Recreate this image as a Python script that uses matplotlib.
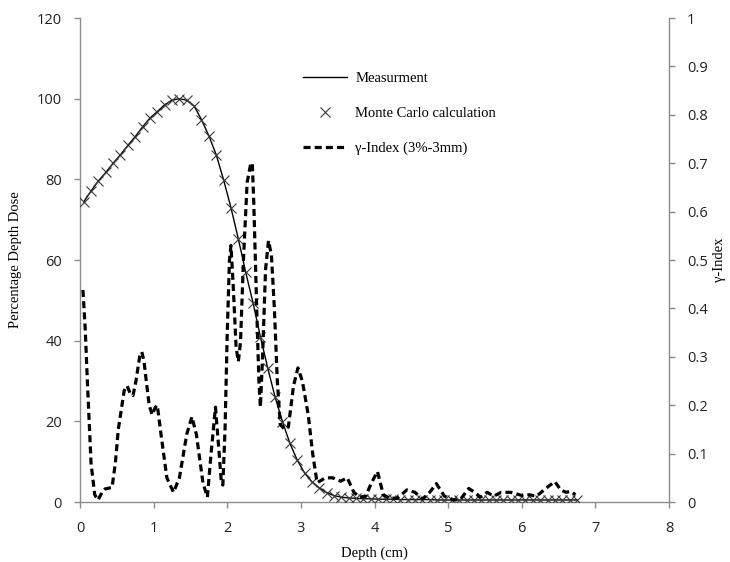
import matplotlib
matplotlib.use("Agg")
import matplotlib.pyplot as plt
from matplotlib.lines import Line2D

# ---- data ----
depth = [round(0.05 + 0.1 * i, 2) for i in range(68)]
pdd = [74.4, 77.1, 79.6, 81.7, 84.0, 86.1, 88.4, 90.6, 93.0, 95.2,
       96.8, 98.5, 99.6, 100.0, 99.6, 98.2, 94.8, 90.8, 86.1, 79.9,
       73.0, 65.3, 57.0, 49.4, 41.0, 33.2, 26.0, 19.9, 14.6, 10.4,
       7.2, 5.0, 3.5, 2.3, 1.6, 1.2, 1.0, 0.9, 0.8, 0.8,
       0.7, 0.7, 0.7, 0.6, 0.6, 0.6, 0.6, 0.6, 0.5, 0.5,
       0.5, 0.5, 0.5, 0.5, 0.5, 0.5, 0.5, 0.5, 0.5, 0.5,
       0.5, 0.5, 0.5, 0.5, 0.5, 0.5, 0.5, 0.5]

gamma_depth = [0.04, 0.07, 0.10, 0.15, 0.20, 0.245, 0.30, 0.34, 0.435, 0.48,
               0.52, 0.57, 0.60, 0.64, 0.68, 0.72, 0.76, 0.81, 0.84, 0.87,
               0.90, 0.94, 0.98, 1.02, 1.05, 1.10, 1.18, 1.27, 1.35, 1.45,
               1.52, 1.58, 1.67, 1.73, 1.78, 1.84, 1.88, 1.92, 1.94, 1.97,
               2.00, 2.03, 2.05, 2.08, 2.12, 2.15, 2.18, 2.22, 2.27, 2.32,
               2.34, 2.36, 2.40, 2.43, 2.45, 2.48, 2.52, 2.56, 2.60, 2.64,
               2.68, 2.72, 2.78, 2.83, 2.90, 2.96, 3.02, 3.10, 3.16, 3.22,
               3.28, 3.33, 3.43, 3.54, 3.63, 3.72, 3.80, 3.88, 3.96, 4.04,
               4.12, 4.20, 4.31, 4.44, 4.55, 4.65, 4.75, 4.84, 4.95, 5.08,
               5.17, 5.28, 5.36, 5.44, 5.53, 5.62, 5.72, 5.85, 5.99, 6.10,
               6.20, 6.28, 6.36, 6.45, 6.53, 6.60, 6.66, 6.73]
gamma = [0.438, 0.36, 0.25, 0.08, 0.015, 0.004, 0.02, 0.027, 0.03, 0.08,
         0.15, 0.20, 0.23, 0.24, 0.225, 0.22, 0.25, 0.30, 0.31, 0.29,
         0.25, 0.20, 0.18, 0.195, 0.20, 0.14, 0.05, 0.02, 0.05, 0.14,
         0.176, 0.14, 0.04, 0.01, 0.10, 0.196, 0.12, 0.04, 0.035, 0.15,
         0.35, 0.50, 0.53, 0.45, 0.32, 0.29, 0.33, 0.50, 0.66, 0.70,
         0.70, 0.62, 0.40, 0.25, 0.196, 0.30, 0.48, 0.54, 0.51, 0.40,
         0.25, 0.16, 0.15, 0.155, 0.24, 0.277, 0.25, 0.18, 0.10, 0.04,
         0.045, 0.05, 0.05, 0.043, 0.05, 0.02, 0.01, 0.012, 0.04, 0.063,
         0.015, 0.008, 0.008, 0.025, 0.02, 0.006, 0.02, 0.038, 0.012, 0.004,
         0.006, 0.028, 0.02, 0.01, 0.02, 0.012, 0.02, 0.02, 0.014, 0.015,
         0.012, 0.022, 0.032, 0.042, 0.025, 0.02, 0.022, 0.015]

x_ticks = [0, 1, 2, 3, 4, 5, 6, 7, 8]
y_ticks = [0, 20, 40, 60, 80, 100, 120]
g_ticks = [0, 0.1, 0.2, 0.3, 0.4, 0.5, 0.6, 0.7, 0.8, 0.9, 1]
g_tick_labels = ["0", "0.1", "0.2", "0.3", "0.4", "0.5", "0.6", "0.7", "0.8", "0.9", "1"]

# ---- plot ----
serif = "Liberation Serif"
tickfont = "Open Sans"
spine_col = "#8c8c8c"

fig = plt.figure(figsize=(7.3, 5.62), dpi=100)
ax = fig.add_axes([80 / 730, 60 / 562, 589 / 730, 484 / 562])
ax2 = ax.twinx()

ax.plot(depth, pdd, color="black", lw=1.0, zorder=3)
ax.plot(depth, pdd, linestyle="none", marker="x", markersize=7,
        markeredgewidth=0.8, color="#3a3a3a", zorder=4)
ax2.plot(gamma_depth, gamma, color="black", lw=2.3,
         linestyle=(0, (2.2, 1.3)), zorder=2)

ax.set_xlim(0, 8)
ax.set_ylim(0, 120)
ax2.set_ylim(0, 1)
ax.set_xticks(x_ticks)
ax.set_yticks(y_ticks)
ax2.set_yticks(g_ticks)
ax2.set_yticklabels(g_tick_labels)

for a in (ax, ax2):
    a.spines["top"].set_visible(False)
    for s in ("left", "right", "bottom"):
        a.spines[s].set_color(spine_col)
        a.spines[s].set_linewidth(1.0)
    a.tick_params(direction="out", length=4, width=1.0, color=spine_col,
                  labelsize=10.5, labelcolor="#222222")
    for lab in a.get_xticklabels() + a.get_yticklabels():
        lab.set_fontfamily(tickfont)
ax.tick_params(axis="x", pad=10)
ax.tick_params(axis="y", pad=9)
ax2.tick_params(axis="y", pad=9)
ax.spines["right"].set_visible(False)
ax2.spines["left"].set_visible(False)
ax2.spines["bottom"].set_visible(False)

ax.set_xlabel("Depth (cm)", fontfamily=serif, fontsize=10.5, labelpad=7)
ax.set_ylabel("Percentage Depth Dose", fontfamily=serif, fontsize=10.5, labelpad=11)
ax2.set_ylabel("γ-Index", fontfamily=serif, fontsize=10.5, labelpad=4)

handles = [
    Line2D([], [], color="black", lw=1.0),
    Line2D([], [], linestyle="none", marker="x", markersize=7,
           markeredgewidth=0.8, color="#3a3a3a"),
    Line2D([], [], color="black", lw=2.3, linestyle=(0, (2.2, 1.3))),
]
labels = ["Measurment", "Monte Carlo calculation", "γ-Index (3%-3mm)"]
leg = ax2.legend(handles, labels, loc="upper left",
                 bbox_to_anchor=(217 / 589, (502 - 66) / 484),
                 frameon=False, handlelength=3.0, handletextpad=0.6,
                 labelspacing=1.5, borderaxespad=0,
                 prop={"family": serif, "size": 10.5})

fig.savefig("out.png", dpi=100)
